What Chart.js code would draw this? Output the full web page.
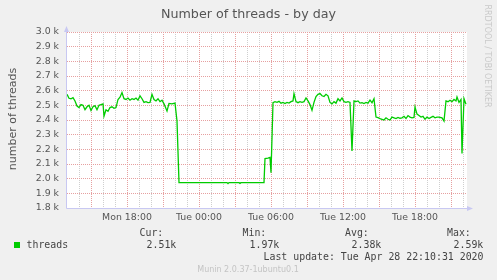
<!DOCTYPE html>
<html>
<head>
<meta charset="utf-8">
<title>Number of threads - by day</title>
<script src="https://cdn.jsdelivr.net/npm/chart.js@4.4.0/dist/chart.umd.min.js"></script>
<style>
  html, body { margin: 0; padding: 0; background: #f0f0f0; }
  canvas { display: block; }
</style>
</head>
<body>
<canvas id="threadsChart" width="497" height="280"></canvas>
<script>
// sample times, minutes since Mon 00:00
const times = [
  780, 790, 800, 810, 820, 830, 840, 850, 860, 870, 880, 890, 900, 910, 920, 930, 940, 950, 960, 965,
  975, 985, 995, 1005, 1015, 1025, 1035, 1045, 1055, 1065, 1075, 1085, 1095, 1105, 1115, 1125, 1135, 1145, 1155, 1165,
  1175, 1185, 1195, 1205, 1215, 1225, 1235, 1245, 1255, 1265, 1280, 1290, 1305, 1320, 1330, 1340, 1445, 1580, 1585, 1590,
  1640, 1645, 1650, 1765, 1770, 1785, 1795, 1800, 1810, 1820, 1830, 1840, 1850, 1860, 1870, 1880, 1890, 1900, 1910, 1915,
  1925, 1935, 1945, 1955, 1965, 1975, 1985, 1995, 2005, 2015, 2025, 2035, 2045, 2055, 2065, 2075, 2085, 2095, 2105, 2115,
  2125, 2135, 2145, 2155, 2165, 2175, 2185, 2195, 2205, 2215, 2225, 2235, 2245, 2255, 2265, 2275, 2285, 2295, 2305, 2315,
  2325, 2335, 2345, 2355, 2365, 2375, 2385, 2395, 2405, 2415, 2425, 2435, 2445, 2455, 2465, 2475, 2485, 2495, 2505, 2515,
  2520, 2530, 2540, 2550, 2560, 2570, 2580, 2590, 2600, 2610, 2620, 2630, 2640, 2655, 2665, 2675, 2685, 2695, 2705, 2715,
  2725, 2730, 2740, 2750, 2755, 2765, 2775
];
const threads = [
  2575, 2548, 2545, 2552, 2530, 2495, 2485, 2505, 2500, 2470, 2490, 2500, 2465, 2490, 2498, 2470, 2500, 2505, 2510, 2427,
  2470, 2460, 2485, 2490, 2480, 2485, 2540, 2555, 2587, 2545, 2540, 2550, 2535, 2545, 2540, 2550, 2535, 2565, 2545, 2520,
  2525, 2518, 2520, 2575, 2540, 2530, 2545, 2525, 2535, 2510, 2461, 2513, 2510, 2515, 2393, 1973, 1973, 1973, 1966, 1973,
  1973, 1968, 1973, 1973, 2137, 2140, 2145, 2041, 2518, 2525, 2520, 2527, 2515, 2520, 2512, 2520, 2515, 2525, 2530, 2580,
  2525, 2518, 2525, 2520, 2525, 2550, 2530, 2505, 2466, 2520, 2560, 2575, 2580, 2565, 2560, 2575, 2565, 2520, 2510, 2525,
  2515, 2545, 2530, 2550, 2525, 2520, 2525, 2520, 2189, 2530, 2525, 2530, 2515, 2518, 2512, 2520, 2515, 2535, 2518, 2545,
  2420, 2416, 2410, 2405, 2400, 2415, 2405, 2400, 2420, 2415, 2410, 2418, 2412, 2415, 2425, 2410, 2430, 2420, 2415, 2418,
  2489, 2440, 2430, 2420, 2425, 2405, 2420, 2410, 2418, 2425, 2415, 2420, 2420, 2415, 2393, 2530, 2525, 2535, 2525, 2540,
  2530, 2557, 2520, 2540, 2171, 2545, 2507
];

const timeLabelAt = [1080, 1440, 1800, 2160, 2520];
const timeLabels = ['Mon 18:00', 'Tue 00:00', 'Tue 06:00', 'Tue 12:00', 'Tue 18:00'];
const yTicks = [1800, 1900, 2000, 2100, 2200, 2300, 2400, 2500, 2600, 2700, 2800, 2900, 3000];
const yTickLabels = ['1.8 k', '1.9 k', '2.0 k', '2.1 k', '2.2 k', '2.3 k', '2.4 k', '2.5 k', '2.6 k', '2.7 k', '2.8 k', '2.9 k', '3.0 k'];
const statNames = ['Cur:', 'Min:', 'Avg:', 'Max:'];
const statValues = ['2.51k', '1.97k', '2.38k', '2.59k'];

const MAJOR = '#e6a0a0';
const MINOR = '#cfcfcf';
const AXIS = '#c8c8f2';

// extra munin/rrdtool bits: white canvas, axes with arrows, title and legend text
const muninFrame = {
  id: 'muninFrame',
  beforeDraw(chart) {
    const { ctx, chartArea: a } = chart;
    ctx.save();
    ctx.fillStyle = '#ffffff';
    ctx.fillRect(a.left, a.top, a.right - a.left, a.bottom - a.top);
    ctx.restore();
  },
  afterDraw(chart) {
    const { ctx, chartArea: a } = chart;
    ctx.save();

    // axes
    ctx.strokeStyle = AXIS;
    ctx.fillStyle = AXIS;
    ctx.lineWidth = 1;
    ctx.beginPath();
    ctx.moveTo(a.left - 0.5, a.bottom + 0.5);
    ctx.lineTo(a.left - 0.5, a.top - 3);
    ctx.moveTo(a.left - 0.5, a.bottom + 0.5);
    ctx.lineTo(a.right + 3, a.bottom + 0.5);
    ctx.stroke();
    ctx.beginPath();
    ctx.moveTo(a.left - 0.5, a.top - 6);
    ctx.lineTo(a.left - 3, a.top);
    ctx.lineTo(a.left + 2, a.top);
    ctx.closePath();
    ctx.fill();
    ctx.beginPath();
    ctx.moveTo(a.right + 6, a.bottom + 0.5);
    ctx.lineTo(a.right, a.bottom - 2);
    ctx.lineTo(a.right, a.bottom + 3);
    ctx.closePath();
    ctx.fill();

    // title
    ctx.fillStyle = '#555555';
    ctx.font = '12.7px "DejaVu Sans"';
    ctx.textAlign = 'center';
    ctx.textBaseline = 'alphabetic';
    ctx.fillText('Number of threads - by day', 248.5, 17.5);

    // y axis title
    ctx.save();
    ctx.translate(15.7, 119);
    ctx.rotate(-Math.PI / 2);
    ctx.font = '11px "DejaVu Sans"';
    ctx.fillText('number of threads', 0, 0);
    ctx.restore();

    // rrdtool credit
    ctx.save();
    ctx.translate(485, 56);
    ctx.rotate(Math.PI / 2);
    ctx.fillStyle = '#c9c9c9';
    ctx.font = '8px "DejaVu Sans"';
    ctx.fillText('RRDTOOL / TOBI OETIKER', 0, 0);
    ctx.restore();

    // legend
    ctx.fillStyle = '#00cc00';
    ctx.fillRect(14, 242, 6, 6);
    ctx.fillStyle = '#444444';
    ctx.font = '9.9px "DejaVu Sans Mono"';
    ctx.textAlign = 'left';
    ctx.fillText('threads', 26.5, 247.8);
    const nameX = [139.5, 242.5, 345, 447];
    const valueX = [176.3, 279.3, 381.3, 483.3];
    statNames.forEach((n, i) => {
      ctx.textAlign = 'left';
      ctx.fillText(n, nameX[i], 236.3);
      ctx.textAlign = 'right';
      ctx.fillText(statValues[i], valueX[i], 247.8);
    });
    ctx.textAlign = 'right';
    ctx.fillText('Last update: Tue Apr 28 22:10:31 2020', 483.5, 259.6);

    ctx.fillStyle = '#c4c4c4';
    ctx.font = '8px "DejaVu Sans"';
    ctx.textAlign = 'center';
    ctx.fillText('Munin 2.0.37-1ubuntu0.1', 248, 271.5);
    ctx.restore();
  }
};

const points = times.map((t, i) => ({ x: t, y: threads[i] }));

new Chart(document.getElementById('threadsChart'), {
  type: 'line',
  data: {
    datasets: [{
      label: 'threads',
      data: points,
      borderColor: '#00cc00',
      borderWidth: 1.3,
      pointRadius: 0,
      tension: 0,
      fill: false
    }]
  },
  options: {
    responsive: false,
    animation: false,
    devicePixelRatio: 1,
    layout: { padding: { left: 0, top: 32, right: 30, bottom: 0 } },
    plugins: {
      legend: { display: false },
      tooltip: { enabled: false },
      title: { display: false }
    },
    scales: {
      x: {
        type: 'linear',
        min: 780,
        max: 2780,
        afterBuildTicks(scale) {
          const ticks = [];
          for (let v = 840; v < 2780; v += 60) ticks.push({ value: v });
          scale.ticks = ticks;
        },
        afterFit(scale) { scale.height = 72; },
        ticks: {
          autoSkip: false,
          maxRotation: 0,
          padding: 4,
          color: '#555555',
          font: { family: 'DejaVu Sans', size: 9.4 },
          callback: (v) => {
            const i = timeLabelAt.indexOf(v);
            return i >= 0 ? timeLabels[i] : '';
          }
        },
        grid: {
          drawTicks: false,
          lineWidth: 1,
          color: (c) => (c.tick && c.tick.value % 180 === 0 ? MAJOR : MINOR)
        },
        border: { display: false, dash: [1, 1] }
      },
      y: {
        min: 1800,
        max: 3000,
        afterBuildTicks(scale) {
          scale.ticks = yTicks.map((v) => ({ value: v }));
        },
        afterFit(scale) { scale.width = 67; },
        ticks: {
          padding: 8,
          color: '#555555',
          font: { family: 'DejaVu Sans', size: 9.4 },
          callback: (v) => yTickLabels[yTicks.indexOf(v)]
        },
        grid: {
          drawTicks: false,
          lineWidth: 1,
          color: MAJOR
        },
        border: { display: false, dash: [1, 1] }
      }
    }
  },
  plugins: [muninFrame]
});
</script>
</body>
</html>
